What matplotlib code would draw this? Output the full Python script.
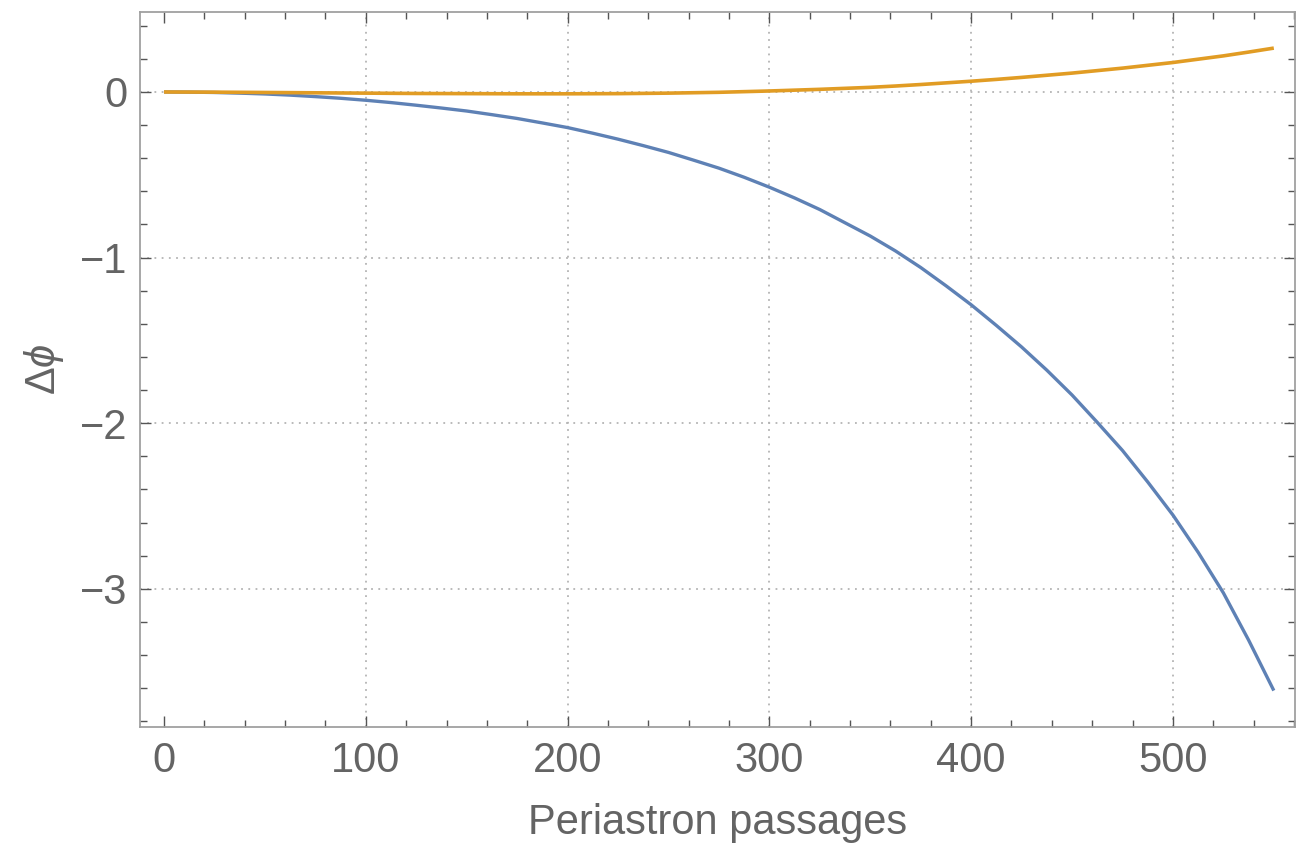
import numpy as np
import matplotlib.pyplot as plt
from matplotlib.ticker import MultipleLocator

plt.rcParams.update({
    'font.family': ['Liberation Sans', 'DejaVu Sans'],
    'mathtext.fontset': 'custom',
    'mathtext.rm': 'Liberation Sans',
    'mathtext.it': 'Liberation Sans:italic',
    'axes.unicode_minus': True,
})

# periastron passages
passages = [0, 12.5, 25, 37.5, 50, 62.5, 75, 87.5, 100, 112.5, 125, 137.5,
            150, 162.5, 175, 187.5, 200, 212.5, 225, 237.5, 250, 262.5, 275,
            287.5, 300, 312.5, 325, 337.5, 350, 362.5, 375, 387.5, 400,
            412.5, 425, 437.5, 450, 462.5, 475, 487.5, 500, 512.5, 525,
            537.5, 550]
# blue curve (phase shift, first model)
dphi_blue = [0, -0.001, -0.003, -0.007, -0.012, -0.019, -0.028, -0.038,
             -0.05, -0.064, -0.08, -0.097, -0.115, -0.137, -0.16, -0.187,
             -0.215, -0.249, -0.285, -0.324, -0.365, -0.412, -0.46, -0.515,
             -0.575, -0.64, -0.71, -0.79, -0.87, -0.96, -1.06, -1.17,
             -1.285, -1.41, -1.54, -1.68, -1.83, -1.995, -2.165, -2.355,
             -2.555, -2.78, -3.025, -3.31, -3.615]
# orange curve (phase shift, second model)
dphi_orange = [0, -0.0005, -0.001, -0.002, -0.003, -0.004, -0.005, -0.006,
               -0.007, -0.008, -0.009, -0.0095, -0.01, -0.0105, -0.011,
               -0.011, -0.011, -0.0105, -0.01, -0.0085, -0.007, -0.0045,
               -0.002, 0.002, 0.006, 0.011, 0.016, 0.022, 0.028, 0.036,
               0.045, 0.055, 0.065, 0.076, 0.088, 0.101, 0.114, 0.129,
               0.144, 0.161, 0.178, 0.198, 0.218, 0.241, 0.265]

grid_x = [100, 200, 300, 400, 500]
grid_y = [0, -1, -2, -3]

fig = plt.figure(figsize=(13.02, 8.47), dpi=100)
ax = fig.add_axes([140 / 1302, 1 - 727 / 847, 1155 / 1302, 715 / 847])

for gx in grid_x:
    ax.axvline(gx, color='#b4b4b4', lw=1.3, ls=(0, (1, 3)), zorder=0)
for gy in grid_y:
    ax.axhline(gy, color='#b4b4b4', lw=1.3, ls=(0, (1, 3)), zorder=0)

ax.plot(passages, dphi_blue, color='#5e81b5', lw=2.4, solid_capstyle='butt')
ax.plot(passages, dphi_orange, color='#e19c24', lw=2.6, solid_capstyle='butt')

ax.set_xlim(-11.9, 560.5)
ax.set_ylim(-3.835, 0.483)

ax.xaxis.set_major_locator(MultipleLocator(100))
ax.xaxis.set_minor_locator(MultipleLocator(20))
ax.yaxis.set_major_locator(MultipleLocator(1))
ax.yaxis.set_minor_locator(MultipleLocator(0.2))

for spine in ax.spines.values():
    spine.set_color('#a0a0a0')
    spine.set_linewidth(1.3)

ax.tick_params(which='both', direction='in', top=True, right=True,
               color='#555555', width=1.0, labelcolor='#646464',
               labelsize=30)
ax.tick_params(axis='x', which='major', length=8, pad=10)
ax.tick_params(axis='y', which='major', length=8, pad=9)
ax.tick_params(which='minor', length=5)

ax.set_xlabel('Periastron passages', fontsize=30, color='#646464', labelpad=16)
ax.set_ylabel(r'$\Delta\phi$', fontsize=30, color='#646464', labelpad=10)

fig.savefig('out.png', dpi=100)
